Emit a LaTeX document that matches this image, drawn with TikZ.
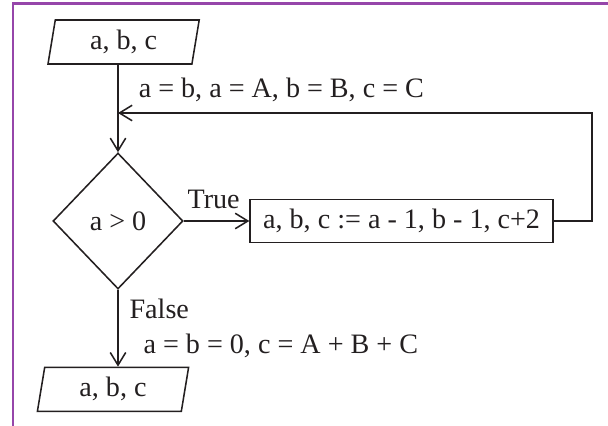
\documentclass[tikz,border=0pt]{standalone}
\usepackage{fontspec}
\setmainfont{Liberation Serif}
\usepackage{xcolor}
\usetikzlibrary{shapes,shapes.geometric,arrows.meta}
\definecolor{inkblack}{RGB}{35,31,32}
\definecolor{framepurple}{RGB}{150,70,170}

\begin{document}
\begin{tikzpicture}[
	font=\fontsize{20}{24}\selectfont, color=inkblack, line width=1.1pt,
	io/.style={trapezium, trapezium left angle=73, trapezium right angle=107, trapezium stretches body, draw, minimum width=3.78cm, minimum height=1.1cm, inner sep=0},
	decision/.style={diamond, draw, minimum width=3.25cm, minimum height=3.4cm, inner sep=0},
	process/.style={rectangle, draw, minimum width=7.575cm, minimum height=1.075cm, inner sep=0},
	lbl/.style={anchor=west, inner sep=0},
	flow/.style={-{Straight Barb[length=9pt,width=11pt]}}
]
\useasboundingbox (-2.95,-5.125) rectangle (12.25,5.525);
\draw[framepurple, line width=1.6pt] (-2.625,-5.125) -- (-2.625,5.4375) -- (12.25,5.4375);

\node[decision] (test) at (0,0) {a > 0};
\node[io] (in1) at (0.14,4.475) {a, b, c};
\node[process] (upd) at (7.09,0) {a, b, c := a - 1, b - 1, c+2};
\node[io] (out1) at (-0.125,-4.21) {a, b, c};
\coordinate (join) at (0,2.7);
\coordinate (turn) at (11.85,0);

\node[lbl] (initlbl) at (0.5,3.27) {a = b, a = A, b = B, c = C};
\node[lbl] (truelbl) at (1.72,0.55) {True};
\node[lbl] (falselbl) at (0.27,-2.2) {False};
\node[lbl] (donelbl) at (0.62,-3.12) {a = b = 0, c = A + B + C};

\draw[flow] (in1.south -| test.north) -- (test.north);
\draw[flow] (test.east) -- (upd.west);
\draw[flow] (upd.east) -- (turn) |- (join);
\draw[flow] (test.south) -- (out1.north -| test.south);
\end{tikzpicture}
\end{document}
